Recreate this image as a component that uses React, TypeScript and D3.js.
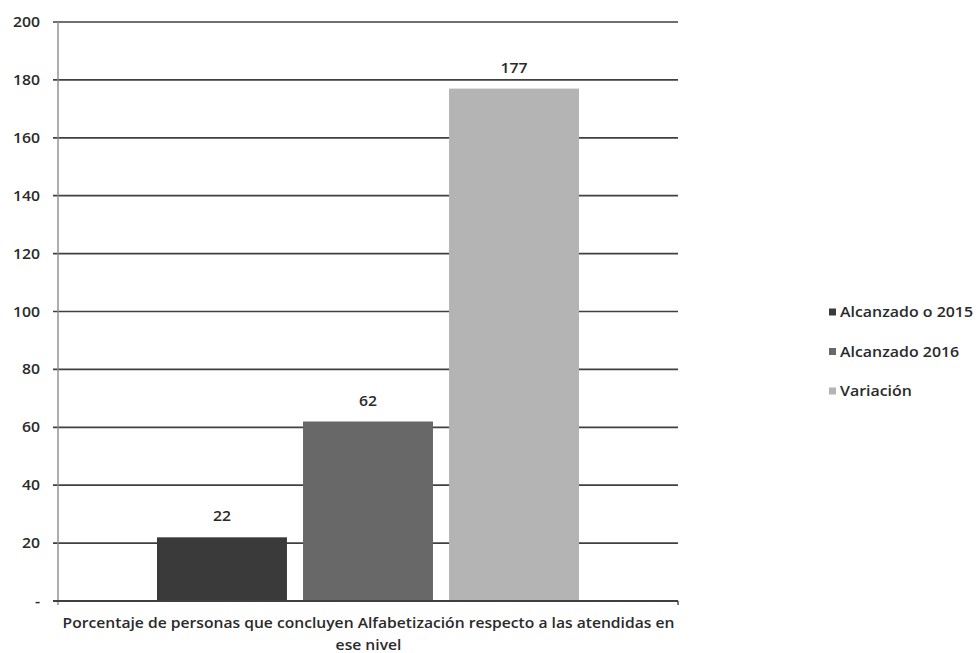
import React from "react";
import * as d3 from "d3";

const categories = ["Alcanzado o 2015", "Alcanzado 2016", "Variación"];
const values = [22, 62, 177];
const colors = ["#3a3a3a", "#686868", "#b4b4b4"];
const yTicks = [0, 20, 40, 60, 80, 100, 120, 140, 160, 180, 200];
const xLabelLines = [
  "Porcentaje de personas que concluyen Alfabetización respecto a las atendidas en",
  "ese nivel",
];

const font = "'Open Sans', 'DejaVu Sans', sans-serif";

function T(props: { x: number; y: number; anchor?: string; size?: number; children: React.ReactNode; sx?: number }) {
  const { x, y, anchor = "start", size = 13.5, children, sx = 1.17 } = props;
  return (
    <text
      transform={`translate(${x},${y}) scale(${sx},1)`}
      textAnchor={anchor}
      fontSize={size}
      fontWeight={600}
      fontFamily={font}
      fill="#2a2a2a"
    >
      {children}
    </text>
  );
}

export default function App() {
  const W = 976, H = 653;
  const left = 58, right = 678, top = 22, bottom = 601;
  const y = d3.scaleLinear().domain([0, 200]).range([bottom, top]);
  const x = d3.scaleBand<string>().domain(categories).range([157, 579]).paddingInner(0.11);
  return (
    <svg width={W} height={H} style={{ position: "absolute", left: 0, top: 0, background: "#fff" }}>
      <rect width={W} height={H} fill="#fff" />
      {yTicks.map((t) => (
        <g key={t}>
          <line x1={left - 5} x2={right} y1={y(t)} y2={y(t)} stroke="#404040" strokeWidth={1.7} />
          <T x={40} y={y(t) + 5} anchor="end">
            {t === 0 ? "-" : String(t)}
          </T>
        </g>
      ))}
      <line x1={left} x2={left} y1={top} y2={bottom + 4} stroke="#8a8a8a" strokeWidth={1.4} />
      <line x1={right} x2={right} y1={bottom} y2={bottom + 4} stroke="#404040" strokeWidth={1.4} />
      {categories.map((c, i) => (
        <g key={c}>
          <rect x={x(c)} y={y(values[i])} width={x.bandwidth()} height={y(0) - y(values[i])} fill={colors[i]} />
          <T x={(x(c) as number) + x.bandwidth() / 2} y={y(values[i]) - 16} anchor="middle">
            {String(values[i])}
          </T>
        </g>
      ))}
      <line x1={left - 5} x2={right} y1={bottom} y2={bottom} stroke="#404040" strokeWidth={1.9} />
      {xLabelLines.map((l, i) => (
        <T key={i} x={368.5} y={628 + i * 22} anchor="middle" sx={1.16}>
          {l}
        </T>
      ))}
      {categories.map((c, i) => (
        <g key={c}>
          <rect x={829} y={308.5 + i * 39.5} width={7} height={7} fill={colors[i]} />
          <T x={840} y={317 + i * 39.5} sx={1.18}>
            {c}
          </T>
        </g>
      ))}
    </svg>
  );
}
